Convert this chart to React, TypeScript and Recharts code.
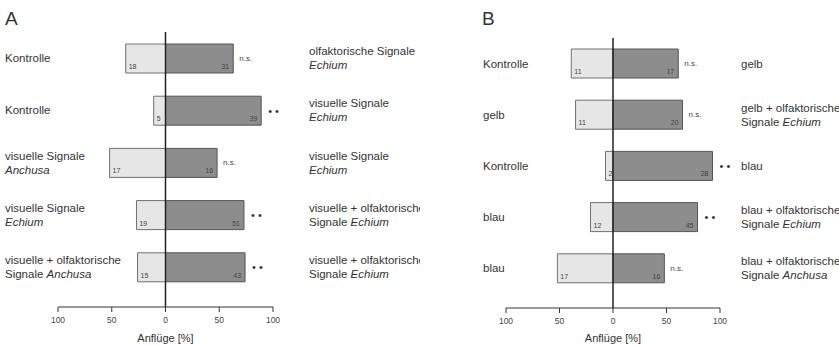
import React from 'react';
import { BarChart, Bar, XAxis, YAxis, ReferenceLine, LabelList } from 'recharts';

const FONT = '"Liberation Sans", Arial, Helvetica, sans-serif';

// axis ticks shared by both panels
const xTicks = [-100, -50, 0, 50, 100];

// Panel A: Anflüge, left vs right stimulus (italic parts between _ _)
const leftLabelsA = [
  'Kontrolle',
  'Kontrolle',
  'visuelle Signale\n_Anchusa_',
  'visuelle Signale\n_Echium_',
  'visuelle + olfaktorische\nSignale _Anchusa_',
];
const rightLabelsA = [
  'olfaktorische Signale\n_Echium_',
  'visuelle Signale\n_Echium_',
  'visuelle Signale\n_Echium_',
  'visuelle + olfaktorische\nSignale _Echium_',
  'visuelle + olfaktorische\nSignale _Echium_',
];
const leftPctA = [37, 11, 52, 27, 26];
const rightPctA = [63, 89, 48, 73, 74];
const leftCountA = [18, 5, 17, 19, 15];
const rightCountA = [31, 39, 16, 51, 43];
const sigA = ['n.s.', '**', 'n.s.', '**', '**'];

// Panel B
const leftLabelsB = ['Kontrolle', 'gelb', 'Kontrolle', 'blau', 'blau'];
const rightLabelsB = [
  'gelb',
  'gelb + olfaktorische\nSignale _Echium_',
  'blau',
  'blau + olfaktorische\nSignale _Echium_',
  'blau + olfaktorische\nSignale _Anchusa_',
];
const leftPctB = [39, 35, 7, 21, 52];
const rightPctB = [61, 65, 93, 79, 48];
const leftCountB = [11, 11, 2, 12, 17];
const rightCountB = [17, 20, 28, 45, 16];
const sigB = ['n.s.', 'n.s.', '**', '**', 'n.s.'];

const buildRows = (lp: number[], rp: number[], ln: number[], rn: number[], sig: string[]) =>
  lp.map((v, i) => ({ row: i, left: -v, right: rp[i], nLeft: ln[i], nRight: rn[i], sig: sig[i] }));

const dataA = buildRows(leftPctA, rightPctA, leftCountA, rightCountA, sigA);
const dataB = buildRows(leftPctB, rightPctB, leftCountB, rightCountB, sigB);

const renderSegments = (line: string) =>
  line.split('_').map((seg, i) => (
    <tspan key={i} fontStyle={i % 2 ? 'italic' : 'normal'}>
      {seg}
    </tspan>
  ));

const SideTick = ({ y, payload, labels, textX }: any) => {
  const lines: string[] = labels[payload.value].split('\n');
  const start = -(lines.length - 1) * 7;
  return (
    <g>
      {lines.map((ln, i) => (
        <text key={i} x={textX} y={y + start + i * 14} dy="0.35em" fontSize={11.5} fill="#333" fontFamily={FONT}>
          {renderSegments(ln)}
        </text>
      ))}
    </g>
  );
};

const CountLabel = ({ x, y, width, height, value, side }: any) => {
  const x0 = Number(x), w = Number(width);
  const l = Math.min(x0, x0 + w);
  const r = Math.max(x0, x0 + w);
  return (
    <text
      x={side === 'left' ? l + 3 : r - 4}
      y={Number(y) + Number(height) - 4}
      textAnchor={side === 'left' ? 'start' : 'end'}
      fontSize={7}
      fill="#444"
      fontFamily={FONT}
    >
      {value}
    </text>
  );
};

const SigLabel = ({ x, y, width, height, value }: any) => {
  const x0 = Number(x), w = Number(width);
  const r = Math.max(x0, x0 + w);
  const cy = Number(y) + Number(height) / 2;
  if (value === '**') {
    return (
      <text x={r + 7} y={cy} dy="0.35em" fontSize={11} fill="#333" fontFamily={FONT}>
        • •
      </text>
    );
  }
  return (
    <text x={r + 6} y={cy} dy="0.3em" fontSize={8} fill="#444" fontFamily={FONT}>
      {value}
    </text>
  );
};

interface PanelProps {
  data: any[];
  leftLabels: string[];
  rightLabels: string[];
  width: number;
  top: number;
  axisY: number;
  leftAxisW: number;
  rightAxisW: number;
  leftTextX: number;
  rightTextX: number;
}

const Panel: React.FC<PanelProps> = ({ data, leftLabels, rightLabels, width, top, axisY, leftAxisW, rightAxisW, leftTextX, rightTextX }) => {
  return (
    <BarChart
      width={width}
      height={345}
      data={data}
      layout="vertical"
      stackOffset="sign"
      margin={{ top, right: 0, bottom: 0, left: 0 }}
      barSize={29}
    >
      <XAxis
        type="number"
        domain={[-100, 100]}
        ticks={xTicks}
        tickFormatter={(v: number) => String(Math.abs(v))}
        height={345 - axisY}
        tickSize={5}
        tickMargin={5}
        stroke="#333"
        tick={{ fontSize: 8.5, fill: '#444', fontFamily: FONT }}
        label={{ value: 'Anflüge [%]', position: 'insideBottom', offset: 3, fontSize: 11, fill: '#333', fontFamily: FONT }}
      />
      <YAxis
        yAxisId="left"
        type="category"
        dataKey="row"
        width={leftAxisW}
        axisLine={false}
        tickLine={false}
        padding={{ top: 0, bottom: 14 }}
        tick={(p: any) => <SideTick {...p} labels={leftLabels} textX={leftTextX} />}
      />
      <YAxis
        yAxisId="right"
        orientation="right"
        type="category"
        dataKey="row"
        width={rightAxisW}
        axisLine={false}
        tickLine={false}
        padding={{ top: 0, bottom: 14 }}
        tick={(p: any) => <SideTick {...p} labels={rightLabels} textX={rightTextX} />}
      />
      <Bar dataKey="left" stackId="s" yAxisId="left" fill="#e6e6e6" stroke="#707070" strokeWidth={1} isAnimationActive={false}>
        <LabelList dataKey="nLeft" content={(p: any) => <CountLabel {...p} side="left" />} />
      </Bar>
      <Bar dataKey="right" stackId="s" yAxisId="left" fill="#8d8d8d" stroke="#555" strokeWidth={1} isAnimationActive={false}>
        <LabelList dataKey="nRight" content={(p: any) => <CountLabel {...p} side="right" />} />
        <LabelList dataKey="sig" content={(p: any) => <SigLabel {...p} />} />
      </Bar>
      <ReferenceLine x={0} yAxisId="left" stroke="#222" strokeWidth={1.5} />
    </BarChart>
  );
};

const letterStyle: React.CSSProperties = {
  position: 'absolute',
  top: 8,
  fontFamily: FONT,
  fontSize: 19,
  color: '#333',
  lineHeight: '22px',
};

export default function App() {
  return (
    <div style={{ position: 'absolute', left: 0, top: 0, width: 839, height: 345, background: '#fff', overflow: 'hidden' }}>
      <div style={{ ...letterStyle, left: 5 }}>A</div>
      <div style={{ ...letterStyle, left: 482 }}>B</div>
      <div style={{ position: 'absolute', left: 0, top: 0 }}>
        <Panel
          data={dataA}
          leftLabels={leftLabelsA}
          rightLabels={rightLabelsA}
          width={420}
          top={32}
          axisY={307}
          leftAxisW={58}
          rightAxisW={147}
          leftTextX={5}
          rightTextX={309}
        />
      </div>
      <div style={{ position: 'absolute', left: 420, top: 0 }}>
        <Panel
          data={dataB}
          leftLabels={leftLabelsB}
          rightLabels={rightLabelsB}
          width={419}
          top={38}
          axisY={308}
          leftAxisW={86}
          rightAxisW={119}
          leftTextX={63}
          rightTextX={321}
        />
      </div>
    </div>
  );
}
